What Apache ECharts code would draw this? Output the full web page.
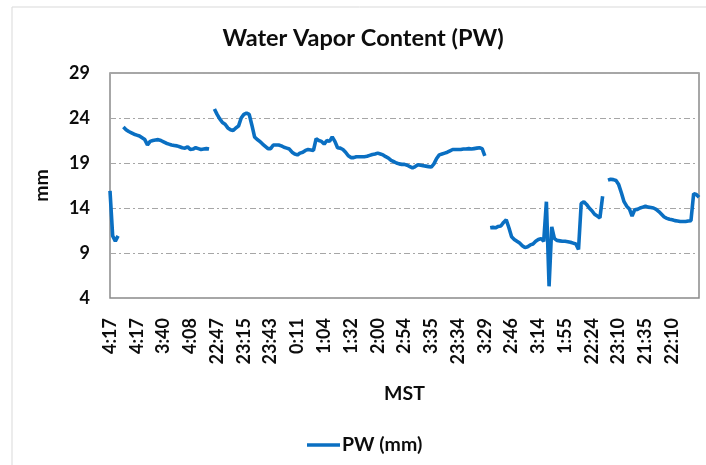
<!DOCTYPE html>
<html>
<head>
<meta charset="utf-8">
<script src="https://cdn.jsdelivr.net/npm/echarts@6/dist/echarts.min.js"></script>
<style>
html, body { margin: 0; padding: 0; background: #fff; }
#main { width: 706px; height: 465px; }
</style>
</head>
<body>
<div id="main"></div>
<script>
var tickLabels = ['4:17', '4:17', '3:40', '4:08', '22:47', '23:15', '23:43', '0:11', '1:04', '1:32', '2:00',
    '2:54', '3:35', '23:34', '3:29', '2:46', '3:14', '1:55', '22:24', '23:10', '21:35', '22:10'];
var perTick = 10; // samples between two labels
var yMin = 4, yMax = 29, yStep = 5;

// PW (mm), one row per label interval (null = gap in the record)
var pw = [
    15.9, 10.9, 10.3, 10.9, null, 23.0, 22.7, 22.5, 22.35, 22.2,
    22.1, 22.0, 21.8, 21.6, 21.0, 21.4, 21.5, 21.55, 21.6, 21.5,
    21.35, 21.2, 21.1, 21.0, 20.95, 20.9, 20.8, 20.7, 20.65, 20.8,
    20.5, 20.55, 20.7, 20.6, 20.5, 20.55, 20.6, 20.55, null, 25.0,
    24.4, 23.9, 23.5, 23.3, 22.9, 22.7, 22.6, 22.9, 23.1, 24.0,
    24.4, 24.55, 24.4, 23.2, 21.9, 21.6, 21.4, 21.1, 20.85, 20.6,
    20.6, 21.0, 21.0, 21.0, 20.9, 20.75, 20.65, 20.55, 20.2, 20.0,
    19.9, 20.1, 20.2, 20.4, 20.5, 20.45, 20.4, 21.7, 21.5, 21.4,
    21.1, 21.5, 21.4, 21.9, 21.4, 20.7, 20.65, 20.5, 20.2, 19.8,
    19.6, 19.6, 19.7, 19.7, 19.7, 19.7, 19.75, 19.85, 19.95, 20.0,
    20.1, 20.0, 19.9, 19.7, 19.55, 19.3, 19.15, 19.0, 18.9, 18.85,
    18.85, 18.75, 18.6, 18.45, 18.6, 18.8, 18.75, 18.7, 18.65, 18.6,
    18.55, 18.9, 19.5, 19.9, 20.0, 20.1, 20.2, 20.35, 20.5, 20.5,
    20.5, 20.5, 20.55, 20.55, 20.6, 20.55, 20.6, 20.65, 20.7, 20.6,
    19.8, null, 11.8, 11.85, 11.8, 11.95, 12.0, 12.4, 12.7, 11.8,
    10.8, 10.5, 10.3, 10.1, 9.8, 9.6, 9.7, 9.9, 10.0, 10.3,
    10.5, 10.6, 10.3, 14.7, 5.3, 11.9, 10.6, 10.4, 10.35, 10.3,
    10.3, 10.25, 10.2, 10.1, 10.0, 9.4, 14.5, 14.7, 14.4, 14.0,
    13.7, 13.3, 13.1, 12.9, 15.3, null, 17.1, 17.2, 17.15, 17.05,
    16.6, 15.7, 14.7, 14.2, 13.9, 13.1, 13.8, 13.85, 14.0, 14.1,
    14.2, 14.1, 14.05, 14.0, 13.85, 13.6, 13.3, 13.0, 12.85, 12.75,
    12.7, 12.6, 12.55, 12.5, 12.5, 12.5, 12.55, 12.6, 15.6, 15.5,
    15.2
];

var categories = pw.map(function (v, i) {
    return (i % perTick === 0 && tickLabels[i / perTick]) ? tickLabels[i / perTick] : '';
});

var font = 'Lato';
var ink = '#0d0d0d';
var blue = '#0a6fc2';
var myChart = echarts.init(document.getElementById('main'));

var option = {
    backgroundColor: '#fff',
    animation: false,
    textStyle: { fontFamily: font },
    title: {
        text: 'Water Vapor Content (PW)',
        left: 358,
        textAlign: 'center',
        top: 21,
        textStyle: { fontFamily: font, fontSize: 23.5, fontWeight: 'bold', color: ink }
    },
    graphic: [{
        type: 'rect',
        shape: { x: 12, y: 7, width: 720, height: 480 },
        style: { fill: 'none', stroke: '#d9d9d9', lineWidth: 1 },
        silent: true
    }],
    legend: {
        left: 302,
        top: 430,
        icon: 'rect',
        itemWidth: 33,
        itemHeight: 3.5,
        itemGap: 4,
        data: ['PW (mm)'],
        textStyle: { fontFamily: font, fontSize: 19.5, fontWeight: 'bold', color: ink, padding: [0, 0, 0, -3] }
    },
    grid: {
        left: 110,
        right: 7,
        top: 73,
        bottom: 167,
        show: true,
        borderColor: '#8a8a8a',
        borderWidth: 1.5
    },
    xAxis: {
        type: 'category',
        data: categories,
        boundaryGap: false,
        name: 'MST',
        nameLocation: 'middle',
        nameGap: 86,
        nameTextStyle: { fontFamily: font, fontSize: 19.5, fontWeight: 'bold', color: ink },
        axisLine: { show: false },
        axisTick: { show: false },
        axisLabel: {
            interval: perTick - 1,
            rotate: 90,
            margin: 20,
            fontFamily: font,
            fontSize: 18,
            fontWeight: 'bold',
            color: ink
        },
        splitLine: { show: false }
    },
    yAxis: {
        type: 'value',
        min: yMin,
        max: yMax,
        interval: yStep,
        name: 'mm',
        nameLocation: 'middle',
        nameGap: 58,
        nameTextStyle: { fontFamily: font, fontSize: 19.5, fontWeight: 'bold', color: ink },
        axisLine: { show: false },
        axisTick: { show: false },
        axisLabel: {
            margin: 20,
            fontFamily: font,
            fontSize: 18,
            fontWeight: 'bold',
            color: ink
        },
        splitLine: {
            lineStyle: { color: '#a6a6a6', width: 1, type: [6, 3, 2, 3] }
        }
    },
    series: [{
        name: 'PW (mm)',
        type: 'line',
        data: pw,
        connectNulls: false,
        showSymbol: false,
        symbol: 'none',
        lineStyle: { color: blue, width: 3.6 },
        itemStyle: { color: blue }
    }]
};

myChart.setOption(option);
</script>
</body>
</html>
